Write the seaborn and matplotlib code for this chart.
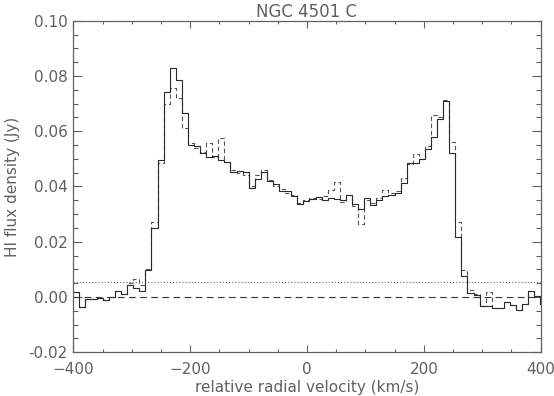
import numpy as np
import seaborn as sns
import matplotlib.pyplot as plt
from matplotlib.ticker import MultipleLocator, FormatStrFormatter

# channel centres (km/s), 10.4 km/s channels
velocity = [-406.6, -396.2, -385.8, -375.4, -365.0, -354.6, -344.2, -333.8, -323.4, -313.0,
            -302.6, -292.2, -281.8, -271.4, -261.0, -250.6, -240.2, -229.8, -219.4, -209.0,
            -198.6, -188.2, -177.8, -167.4, -157.0, -146.6, -136.2, -125.8, -115.4, -105.0,
            -94.6, -84.2, -73.8, -63.4, -53.0, -42.6, -32.2, -21.8, -11.4, -1.0,
            9.4, 19.8, 30.2, 40.6, 51.0, 61.4, 71.8, 82.2, 92.6, 103.0,
            113.4, 123.8, 134.2, 144.6, 155.0, 165.4, 175.8, 186.2, 196.6, 207.0,
            217.4, 227.8, 238.2, 248.6, 259.0, 269.4, 279.8, 290.2, 300.6, 311.0,
            321.4, 331.8, 342.2, 352.6, 363.0, 373.4, 383.8, 394.2, 404.6]

# solid spectrum (Jy)
flux_solid = [0.0019, 0.0019, -0.0035, -0.0007, -0.0007, -0.0005, -0.0010, 0.0000, 0.0022, 0.0010,
              0.0043, 0.0034, 0.0022, 0.0098, 0.0249, 0.0496, 0.0741, 0.0830, 0.0785, 0.0665,
              0.0550, 0.0546, 0.0520, 0.0508, 0.0510, 0.0496, 0.0487, 0.0454, 0.0455, 0.0452,
              0.0394, 0.0426, 0.0452, 0.0420, 0.0408, 0.0382, 0.0385, 0.0366, 0.0337, 0.0348,
              0.0356, 0.0362, 0.0350, 0.0360, 0.0355, 0.0352, 0.0368, 0.0335, 0.0318, 0.0357,
              0.0332, 0.0350, 0.0366, 0.0370, 0.0378, 0.0411, 0.0484, 0.0486, 0.0500, 0.0536,
              0.0580, 0.0645, 0.0708, 0.0522, 0.0218, 0.0076, 0.0015, 0.0007, -0.0033, -0.0033,
              -0.0039, -0.0039, -0.0017, -0.0030, -0.0047, -0.0025, 0.0023, 0.0005, -0.0025]

# dashed spectrum (Jy)
flux_dashed = [0.0019, 0.0019, -0.0035, -0.0007, -0.0007, -0.0005, -0.0010, 0.0000, 0.0022, 0.0010,
               0.0050, 0.0065, 0.0045, 0.0100, 0.0273, 0.0484, 0.0697, 0.0755, 0.0721, 0.0613,
               0.0558, 0.0540, 0.0525, 0.0556, 0.0505, 0.0575, 0.0490, 0.0458, 0.0450, 0.0440,
               0.0400, 0.0440, 0.0460, 0.0425, 0.0400, 0.0390, 0.0378, 0.0370, 0.0340, 0.0352,
               0.0360, 0.0355, 0.0365, 0.0388, 0.0417, 0.0345, 0.0370, 0.0330, 0.0265, 0.0350,
               0.0340, 0.0358, 0.0388, 0.0375, 0.0385, 0.0430, 0.0480, 0.0516, 0.0500, 0.0545,
               0.0660, 0.0650, 0.0712, 0.0562, 0.0273, 0.0098, 0.0025, 0.0010, -0.0033, 0.0019,
               -0.0039, -0.0039, -0.0017, -0.0030, -0.0047, -0.0025, 0.0023, 0.0005, -0.0025]

zero_level = 0.0
noise_level = 0.0055

grey = "#606060"
sns.set_style("ticks")
plt.rcParams['font.family'] = ['DejaVu Sans']

fig = plt.figure(figsize=(5.54, 3.96), dpi=100)
ax = fig.add_axes([0.1323, 0.1104, 0.8437, 0.8373])

sns.lineplot(x=velocity, y=flux_dashed, ax=ax, drawstyle="steps-mid", color="#555555",
             linewidth=0.8, linestyle=(0, (4, 2.5)))
sns.lineplot(x=velocity, y=flux_solid, ax=ax, drawstyle="steps-mid", color="#2a2a2a",
             linewidth=0.8)

ax.axhline(zero_level, color="#333333", linewidth=0.8, linestyle=(0, (6, 4)))
ax.axhline(noise_level, color="#666666", linewidth=0.8, linestyle=(0, (1, 1.8)))

ax.set_xlim(-400, 400)
ax.set_ylim(-0.02, 0.10)
ax.xaxis.set_major_locator(MultipleLocator(200))
ax.xaxis.set_minor_locator(MultipleLocator(50))
ax.yaxis.set_major_locator(MultipleLocator(0.02))
ax.yaxis.set_minor_locator(MultipleLocator(0.005))
ax.yaxis.set_major_formatter(FormatStrFormatter("%.2f"))

for s in ax.spines.values():
    s.set_color(grey)
    s.set_linewidth(0.9)
ax.tick_params(which="both", direction="in", top=True, right=True, color=grey,
               labelcolor=grey, labelsize=11, width=0.8)
ax.tick_params(axis="x", which="major", length=4.8, pad=7)
ax.tick_params(axis="x", which="minor", length=2.4)
ax.tick_params(axis="y", which="major", length=6.7, pad=4)
ax.tick_params(axis="y", which="minor", length=3.4)

ax.set_xlabel("relative radial velocity (km/s)", fontsize=11, color=grey, labelpad=2)
ax.set_ylabel("HI flux density (Jy)", fontsize=11, color=grey, labelpad=6)
ax.set_title("NGC 4501 C", fontsize=12, color=grey, pad=3)

fig.savefig("out.png", dpi=100)
